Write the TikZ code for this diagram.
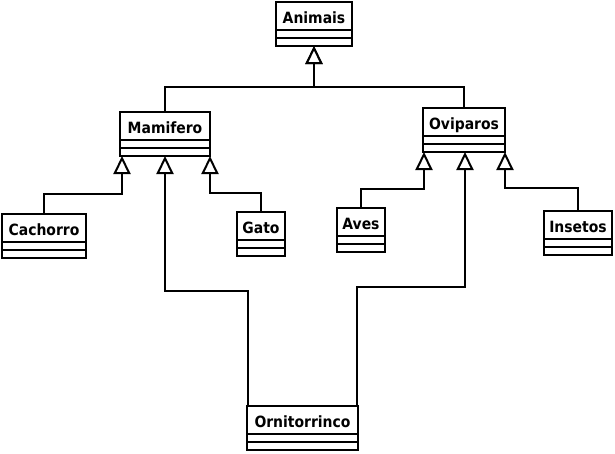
\documentclass[tikz,border=0pt]{standalone}
\usepackage{fontspec}
\setmainfont{DejaVu Sans Condensed}
\usetikzlibrary{arrows.meta,positioning}
\tikzset{
  cls/.style={draw, line width=2pt, inner sep=0pt, outer sep=0pt, minimum height=28pt,
    text height=21pt, text depth=7pt, anchor=north,
    font=\bfseries\fontsize{15.5}{18}\selectfont},
  comp/.style={draw, line width=2pt, inner sep=0pt, outer sep=0pt, minimum height=8pt},
  inh/.style={line width=2pt, -{Triangle[open, length=18pt, width=17pt, fill=white]}},
}
\newcommand{\umlclass}[5]{%
  \node[cls, minimum width=#4pt] (#1) at (#2,#3) {#5};
  \node[comp, minimum width=#4pt, below=0pt of #1] (#1A) {};
  \node[comp, minimum width=#4pt, below=0pt of #1A] (#1B) {};
}
\begin{document}
\begin{tikzpicture}[x=1pt, y=-1pt]
\useasboundingbox (0,0) rectangle (615,453);
\umlclass{animais}{314}{2}{76}{Animais}
\umlclass{mamifero}{165}{112}{90}{Mamifero}
\umlclass{oviparos}{464}{108}{82}{Oviparos}
\umlclass{cachorro}{44}{214}{84}{Cachorro}
\umlclass{gato}{261}{212}{48}{Gato}
\umlclass{aves}{361}{208}{48}{Aves}
\umlclass{insetos}{578}{211}{68}{Insetos}
\umlclass{orn}{302.5}{406}{111}{Ornitorrinco}
\coordinate (j1) at (314,87);
\draw[inh] (mamifero.north) |- (j1) -- (animaisB.south);
\draw[inh] (oviparos.north) |- (j1) -- (animaisB.south);
\draw[inh] (cachorro.north) -- ++(0,-20) -| ([xshift=2pt]mamiferoB.south west);
\draw[inh] (gato.north) -- ++(0,-19) -| (mamiferoB.south east);
\draw[inh] (aves.north) -- ++(0,-19) -| ([xshift=1pt]oviparosB.south west);
\draw[inh] (insetos.north) -- ++(0,-23) -| (oviparosB.south east);
\draw[inh] ([xshift=1pt]orn.north west) -- ++(0,-115) -| (mamiferoB.south);
\draw[inh] ([xshift=-1pt]orn.north east) -- ++(0,-119) -| ([xshift=1pt]oviparosB.south);
\end{tikzpicture}
\end{document}
